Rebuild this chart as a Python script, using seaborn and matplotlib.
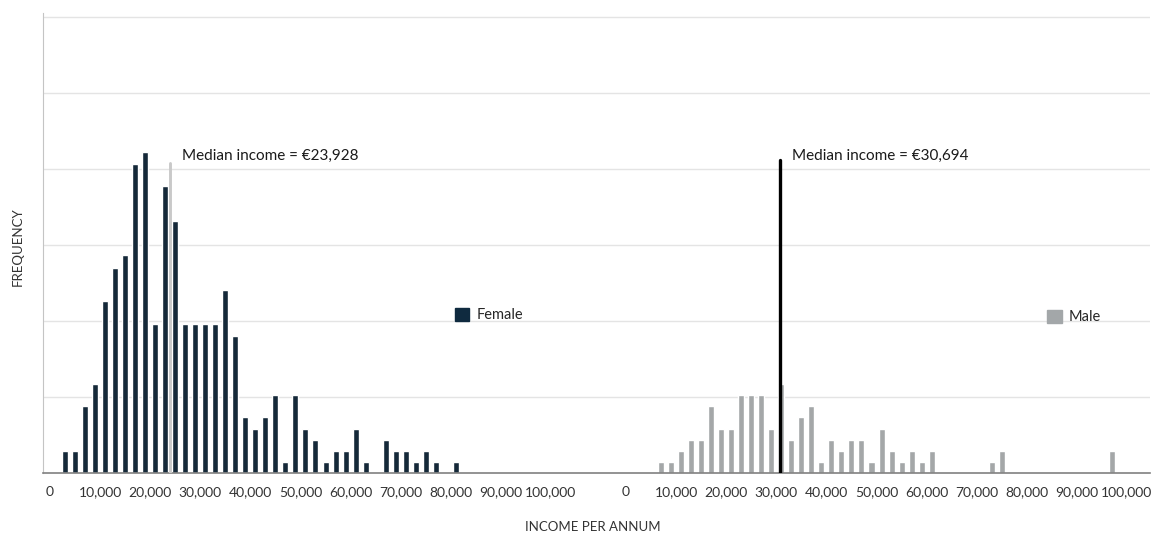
import matplotlib
matplotlib.use('Agg')
import matplotlib.pyplot as plt
from matplotlib.patches import Patch
import pandas as pd
import seaborn as sns

# income bins (bin centres, EUR) and frequencies
female_bins = [3000, 5000, 7000, 9000, 11000, 13000, 15000, 17000, 19000, 21000,
               23000, 25000, 27000, 29000, 31000, 33000, 35000, 37000, 39000, 41000,
               43000, 45000, 47000, 49000, 51000, 53000, 55000, 57000, 59000, 61000,
               63000, 67000, 69000, 71000, 73000, 75000, 77000, 81000]
female_freq = [2, 2, 6, 8, 15.4, 18.4, 19.5, 27.7, 28.8, 13.4,
               25.7, 22.6, 13.4, 13.4, 13.4, 13.4, 16.4, 12.3, 5, 4,
               5, 7, 1, 7, 4, 3, 1, 2, 2, 4,
               1, 3, 2, 2, 1, 2, 1, 1]

male_bins = [7000, 9000, 11000, 13000, 15000, 17000, 19000, 21000, 23000, 25000,
             27000, 29000, 31000, 33000, 35000, 37000, 39000, 41000, 43000, 45000,
             47000, 49000, 51000, 53000, 55000, 57000, 59000, 61000, 73000, 75000,
             97000]
male_freq = [1, 1, 2, 3, 3, 6, 4, 4, 7, 7,
             7, 4, 8, 3, 5, 6, 1, 3, 2, 3,
             3, 1, 4, 2, 1, 2, 1, 2, 1, 2,
             2]

medians = {'Female': 23928, 'Male': 30694}
median_line_top = {'Female': 27.8, 'Male': 28.0}
tick_values = [0, 10000, 20000, 30000, 40000, 50000, 60000, 70000, 80000, 90000, 100000]

female_color = '#0f2a3f'
male_color = '#a3a7a9'
male_offset = 115000  # male histogram is drawn to the right of the female one

df = pd.concat([
    pd.DataFrame({'income': female_bins, 'freq': female_freq, 'sex': 'Female', 'offset': 0}),
    pd.DataFrame({'income': male_bins, 'freq': male_freq, 'sex': 'Male', 'offset': male_offset}),
])
df['pos'] = df['income'] + df['offset']

sns.set_style('white')
plt.rcParams['font.family'] = ['Lato', 'DejaVu Sans']

fig, ax = plt.subplots(figsize=(11.53, 5.37), dpi=100)
fig.subplots_adjust(left=43 / 1153, right=1150 / 1153, bottom=63.7 / 537, top=1 - 13 / 537)

sns.barplot(data=df, x='pos', y='freq', hue='sex', palette={'Female': female_color, 'Male': male_color},
            native_scale=True, dodge=False, width=0.6, errorbar=None, legend=False, ax=ax)

# median lines
ax.plot([medians['Female']] * 2, [0, median_line_top['Female']], color='#c9c9c9', lw=2.1, zorder=3)
ax.plot([medians['Male'] + male_offset] * 2, [0, median_line_top['Male']], color='black', lw=2.4, zorder=3)
ax.annotate('Median income = €{:,}'.format(medians['Female']),
            xy=(medians['Female'], median_line_top['Female']), xytext=(9, 5), textcoords='offset points',
            ha='left', va='center', fontsize=11, color='#1a1a1a')
ax.annotate('Median income = €{:,}'.format(medians['Male']),
            xy=(medians['Male'] + male_offset, median_line_top['Male']), xytext=(9, 3), textcoords='offset points',
            ha='left', va='center', fontsize=11, color='#1a1a1a')

# axes styling
ax.set_xlim(-1400, 219600)
ax.set_ylim(0, 41.2)
ax.set_yticks([6.8, 13.6, 20.4, 27.2, 34.0, 40.8])
ax.set_yticklabels([])
ax.yaxis.grid(True, color='#e4e4e4', lw=1)
ax.set_axisbelow(True)
ax.set_xticks(tick_values + [t + male_offset for t in tick_values])
ax.set_xticklabels(['{:,}'.format(t) for t in tick_values] * 2, fontsize=10, color='#333333')
ax.tick_params(axis='both', length=0)
ax.tick_params(axis='x', pad=9)
ax.set_xlabel('')
ax.set_ylabel('')
sns.despine(ax=ax)
ax.spines['left'].set_color('#c4c4c4')
ax.spines['bottom'].set_color('#808080')
ax.spines['bottom'].set_linewidth(1.2)

leg1 = ax.legend(handles=[Patch(color=female_color, label='Female')], loc='center left',
                 bbox_to_anchor=(0.372, 0.344), frameon=False, fontsize=10.5,
                 handlelength=1, handleheight=1, handletextpad=0.5, borderpad=0, borderaxespad=0)
ax.add_artist(leg1)
ax.legend(handles=[Patch(color=male_color, label='Male')], loc='center left',
          bbox_to_anchor=(0.907, 0.340), frameon=False, fontsize=10.5,
          handlelength=1, handleheight=1, handletextpad=0.5, borderpad=0, borderaxespad=0)

fig.text(18 / 1153, 1 - 247 / 537, 'FREQUENCY', rotation=90, ha='center', va='center',
         fontsize=9.5, color='#333333')
fig.text(593 / 1153, 1 - 527 / 537, 'INCOME PER ANNUM', ha='center', va='center',
         fontsize=9.5, color='#333333')

fig.savefig('out.png', dpi=100)
